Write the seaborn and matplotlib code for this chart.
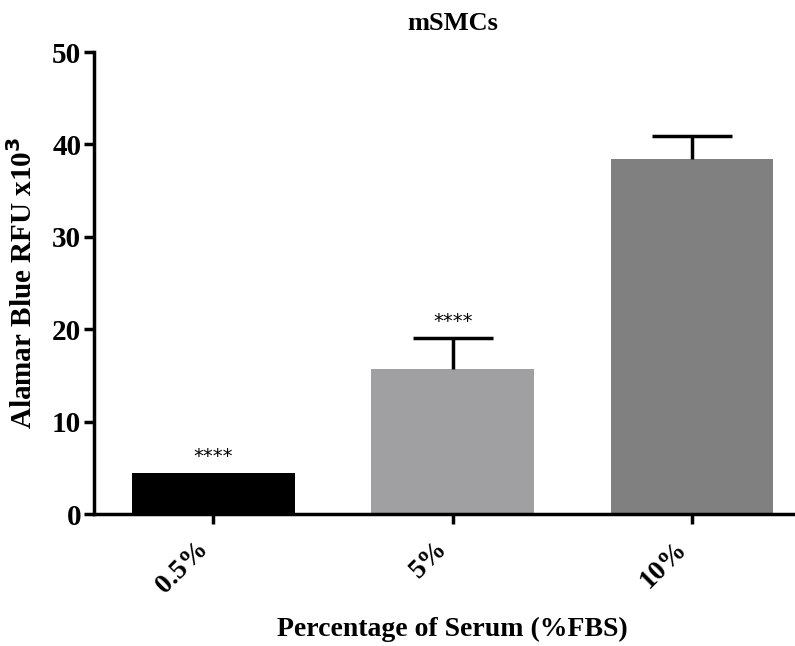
import matplotlib
matplotlib.use("Agg")
import matplotlib.pyplot as plt
import seaborn as sns
import pandas as pd

categories = ["0.5%", "5%", "10%"]
means = [4.4, 15.7, 38.4]
errors = [0.0, 3.3, 2.5]
colors = ["#000000", "#a09fa4", "#808080"]
stars = ["****", "****", ""]
yticks = [0, 10, 20, 30, 40, 50]

sns.set_style("ticks")
plt.rcParams['font.family'] = ['Liberation Serif', 'DejaVu Serif']
plt.rcParams['text.color'] = 'black'
plt.rcParams['axes.labelcolor'] = 'black'
plt.rcParams['xtick.color'] = 'black'
plt.rcParams['ytick.color'] = 'black'
plt.rcParams['axes.edgecolor'] = 'black'

df = pd.DataFrame({"cat": categories, "val": means})

fig = plt.figure(figsize=(7.95, 6.46), dpi=100)
ax = fig.add_axes([0.118, 0.2043, 0.882, 0.7152])

sns.barplot(data=df, x="cat", y="val", hue="cat", palette=colors, legend=False,
            width=0.68, ax=ax, errorbar=None, edgecolor="none")

half_cap = 0.167
for i, (m, e) in enumerate(zip(means, errors)):
    if e > 0:
        ax.vlines(i, m, m + e, color="black", linewidth=2.5, zorder=5)
        ax.hlines(m + e, i - half_cap, i + half_cap, color="black", linewidth=2.5, zorder=5)
    if stars[i]:
        ax.text(i, m + e + 0.8, stars[i], ha="center", va="bottom",
                fontsize=14, family="DejaVu Sans", color="black")

ax.set_xlim(-0.5, 2.43)
ax.set_ylim(0, 50)
ax.set_yticks(yticks)
ax.set_yticklabels([str(t) for t in yticks], fontsize=21, fontweight="bold")
ax.set_xticks(range(len(categories)))
ax.set_xticklabels(categories, rotation=45, ha="right", rotation_mode="default",
                   fontsize=20, fontweight="bold")
ax.tick_params(axis="both", width=2.5, length=7, direction="out")
ax.tick_params(axis="x", pad=9)
ax.tick_params(axis="y", pad=2)
for s in ["left", "bottom"]:
    ax.spines[s].set_linewidth(2.5)
sns.despine(ax=ax)

ax.set_xlabel("Percentage of Serum (%FBS)", fontsize=20, fontweight="bold")
ax.xaxis.set_label_coords(0.512, -0.222)
ax.set_ylabel(r"Alamar Blue RFU x10$^\mathbf{3}$", fontsize=21, fontweight="bold", labelpad=10)
ax.set_title("mSMCs", fontsize=19, fontweight="bold", pad=16, x=0.512)

fig.savefig("out.png", dpi=100)
